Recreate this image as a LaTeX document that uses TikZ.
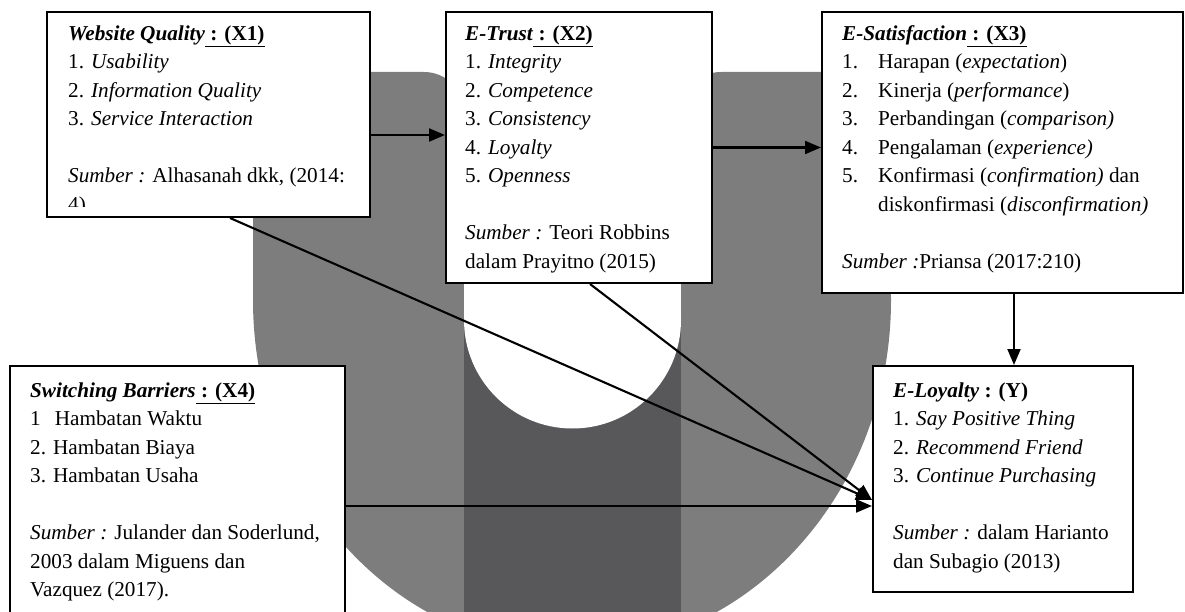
\documentclass[tikz,border=0pt]{standalone}
\usepackage{fontspec}
\setmainfont{Liberation Serif}
\usetikzlibrary{arrows.meta}
\definecolor{wm}{RGB}{125,125,125}
\definecolor{wmd}{RGB}{88,88,90}
\newcommand{\fl}{\rule{0pt}{15pt}}
\begin{document}
\begin{tikzpicture}[x=1pt,y=-1pt,
  box/.style={draw, line width=2pt, fill=white, inner sep=0pt},
  txt/.style={anchor=north west, inner sep=0pt, align=left, font=\fontsize{21.2}{28.5}\selectfont},
  arr/.style={line width=2.1pt, -{Triangle[length=16pt,width=13pt]}}]
\useasboundingbox (0,0) rectangle (1185,612);
\clip (0,0) rectangle (1185,612);
% watermark
\fill[wm, rounded corners=40pt] (253,72) rectangle (464,330);
\fill[wm, rounded corners=40pt] (681,72) rectangle (891,330);
\begin{scope}
  \clip (0,290) rectangle (1185,700);
  \fill[wm] (572,300) ellipse[x radius=319pt, y radius=350pt];
\end{scope}
\fill[wmd] (464,290) rectangle (681,700);
\fill[white] (464,260) rectangle (681,320);
\fill[white] (572.5,320) circle[radius=108.5pt];
% boxes
\node[box, minimum width=323pt, minimum height=205pt] (b1) at (208.5,114.5) {};
\node[box, minimum width=266pt, minimum height=271pt] (b2) at (579,147.5) {};
\node[box, minimum width=361pt, minimum height=281pt] (b3) at (1002.5,152.5) {};
\node[box, minimum width=335pt, minimum height=274pt] (b4) at (177.5,503) {};
\node[box, minimum width=260pt, minimum height=226pt] (b5) at (1003,479) {};
% texts
\begin{scope}
  \clip (47,12) rectangle (370,207);
  \node[txt] (t1) at (68,25) {\fl\textbf{\textit{Website Quality}\underline{\hbox{ : (X1)}}}\\
  1. \textit{Usability}\\
  2. \textit{Information Quality}\\
  3. \textit{Service Interaction}\\[28.5pt]
  \textit{Sumber :} Alhasanah dkk, (2014:\\
  4)};
\end{scope}
\node[txt] (t2) at (465,25) {\fl\textbf{\textit{E-Trust}\underline{\hbox{ : (X2)}}}\\
  1. \textit{Integrity}\\
  2. \textit{Competence}\\
  3. \textit{Consistency}\\
  4. \textit{Loyalty}\\
  5. \textit{Openness}\\[28.5pt]
  \textit{Sumber :} Teori Robbins\\
  dalam Prayitno (2015)};
\node[txt] (t3) at (842,25) {\fl\textbf{\textit{E-Satisfaction}\underline{\hbox{ : (X3)}}}\\
  \makebox[36pt][l]{1.}Harapan (\textit{expectation})\\
  \makebox[36pt][l]{2.}Kinerja (\textit{performance})\\
  \makebox[36pt][l]{3.}Perbandingan (\textit{comparison)}\\
  \makebox[36pt][l]{4.}Pengalaman (\textit{experience)}\\
  \makebox[36pt][l]{5.}Konfirmasi (\textit{confirmation)} dan\\
  \hspace*{36pt}diskonfirmasi (\textit{disconfirmation)}\\[28.5pt]
  \textit{Sumber :}Priansa (2017:210)};
\node[txt] (t4) at (30,382) {\fl\textbf{\textit{Switching Barriers}\underline{\hbox{ : (X4)}}}\\
  1\phantom{.}\ \,Hambatan Waktu\\
  2. Hambatan Biaya\\
  3. Hambatan Usaha\\[28.5pt]
  \textit{Sumber :} Julander dan Soderlund,\\
  2003 dalam Miguens dan\\
  Vazquez (2017).};
\node[txt] (t5) at (893,382) {\fl\textbf{\textit{E-Loyalty} : (Y)}\\
  1. \textit{Say Positive Thing}\\
  2. \textit{Recommend Friend}\\
  3. \textit{Continue Purchasing}\\[28.5pt]
  \textit{Sumber :} dalam Harianto\\
  dan Subagio (2013)};
% connectors
\draw[arr] ([yshift=-20.5pt]b1.east) -- ([yshift=-20.5pt]b1.east -| b2.west);
\draw[arr] (b2.east) -- (b2.east -| b3.west);
\draw[arr] ([xshift=11.5pt]b3.south) -- ([xshift=11.5pt]b3.south |- b5.north);
\draw[arr] ([xshift=21.5pt]b1.south) -- ([yshift=-21pt]b5.west);
\draw[arr] ([xshift=11pt]b2.south) -- ([yshift=-21pt]b5.west);
\draw[arr] ([yshift=-27pt]b5.west -| b4.east) -- ([yshift=-27pt]b5.west);
\end{tikzpicture}
\end{document}
